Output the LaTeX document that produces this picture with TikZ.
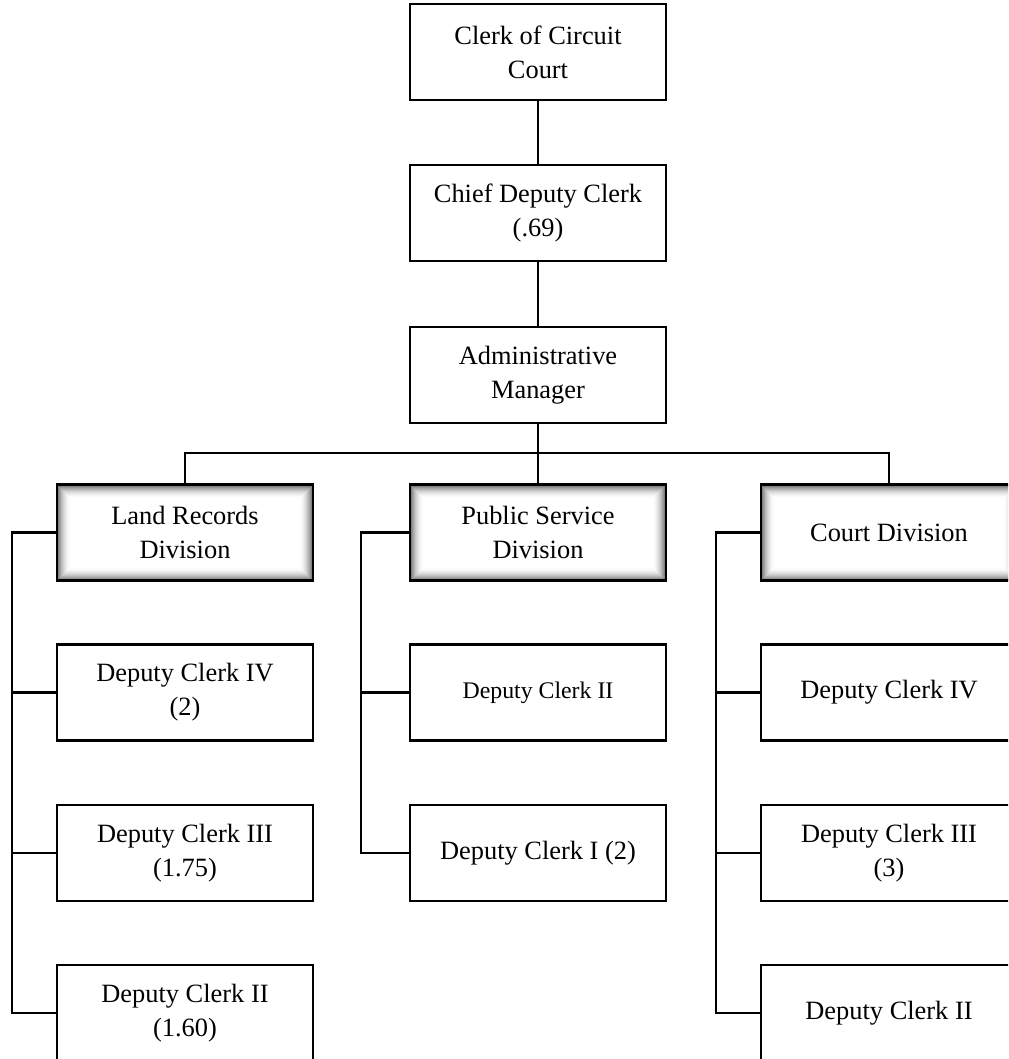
\documentclass[tikz,border=0pt]{standalone}
\usepackage{fontspec}
\setmainfont{Liberation Serif}
\begin{document}
\begin{tikzpicture}[x=0.5pt,y=-0.5pt,
  box/.style={draw=black, line width=1.2pt, fill=white, minimum width=128pt, minimum height=48pt,
    inner sep=0pt, align=center, font=\fontsize{13.2}{17}\selectfont},
  smalltext/.style={font=\fontsize{11.9}{15}\selectfont},
  glow/.style={path picture={
    \foreach \i in {0,...,13}{
      \pgfmathtruncatemacro\c{58*(1-\i/14)^2}
      \draw[line width=0.6pt, draw=black!\c]
        ([xshift=\i*0.5pt+0.3pt, yshift=-\i*0.5pt-0.3pt]path picture bounding box.north west)
        rectangle
        ([xshift=-\i*0.5pt-0.3pt, yshift=\i*0.5pt+0.3pt]path picture bounding box.south east);
    }}},
  conn/.style={line width=1.2pt, draw=black}]
\path[use as bounding box, clip] (0,0) rectangle (1008,1059);
\fill[white] (0,0) rectangle (1008,1059);

% top chain
\node[box] (clerk) at (538,52) {Clerk of Circuit\\Court};
\node[box] (chief) at (538,213) {Chief Deputy Clerk\\(.69)};
\node[box] (admin) at (538,375) {Administrative\\Manager};

% divisions
\node[box, glow] (land)  at (185,532.5) {Land Records\\Division};
\node[box, glow] (pub)   at (538,532.5) {Public Service\\Division};
\node[box, glow] (court) at (889,532.5) {Court Division};

% land records column
\node[box] (l1) at (185,692.5) {Deputy Clerk IV\\(2)};
\node[box] (l2) at (185,853) {Deputy Clerk III\\(1.75)};
\node[box] (l3) at (185,1013) {Deputy Clerk II\\(1.60)};

% public service column
\node[box, smalltext] (p1) at (538,692.5) {Deputy Clerk II};
\node[box] (p2) at (538,853) {Deputy Clerk I (2)};

% court column
\node[box] (c1) at (889,692.5) {Deputy Clerk IV};
\node[box] (c2) at (889,853) {Deputy Clerk III\\(3)};
\node[box] (c3) at (889,1013) {Deputy Clerk II};

% coordinates
\coordinate (bar) at (538,453);
\coordinate (lx) at (12,0);
\coordinate (px) at (361,0);
\coordinate (cx) at (716,0);

% connectors
\draw[conn] (clerk.south) -- (chief.north);
\draw[conn] (chief.south) -- (admin.north);
\draw[conn] (admin.south) -- (bar);
\draw[conn] (land.north) |- (bar) -| (court.north);
\draw[conn] (bar) -- (pub.north);

\draw[conn] (land.west) -- (land.west -| lx) |- (l3.west);
\draw[conn] (l1.west) -- (l1.west -| lx);
\draw[conn] (l2.west) -- (l2.west -| lx);

\draw[conn] (pub.west) -- (pub.west -| px) |- (p2.west);
\draw[conn] (p1.west) -- (p1.west -| px);

\draw[conn] (court.west) -- (court.west -| cx) |- (c3.west);
\draw[conn] (c1.west) -- (c1.west -| cx);
\draw[conn] (c2.west) -- (c2.west -| cx);
\end{tikzpicture}
\end{document}
